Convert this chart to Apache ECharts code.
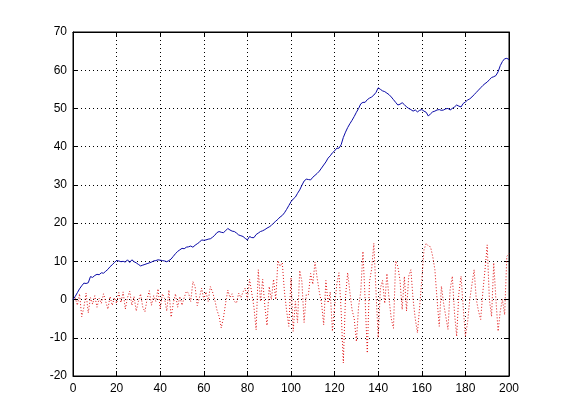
<!DOCTYPE html>
<html>
<head>
<meta charset="utf-8">
<script src="https://cdn.jsdelivr.net/npm/echarts@6/dist/echarts.min.js"></script>
<style>
  html, body { margin: 0; padding: 0; background: #fff; }
  #main { width: 561px; height: 420px; }
</style>
</head>
<body>
<div id="main"></div>
<script>
// blue trace, x = 0..200
const blueValues = [
  0, 0.8, 1.8, 2.8, 3.6, 4.3, 4.2, 4.4, 6.0, 5.8,
  6.3, 6.6, 6.5, 7.0, 6.9, 7.4, 7.9, 8.6, 9.1, 9.7,
  10.2, 10.1, 9.9, 10.0, 9.8, 10.4, 9.7, 10.4, 9.9, 9.6,
  9.2, 8.8, 9.0, 9.2, 9.4, 9.6, 9.8, 10.1, 10.2, 10.4,
  10.3, 10.2, 10.1, 9.9, 10.2, 10.6, 11.3, 12.0, 12.6, 13.0,
  13.4, 13.3, 13.7, 13.8, 14.0, 13.7, 14.2, 14.6, 15.0, 15.6,
  15.5, 15.6, 15.8, 15.9, 16.3, 16.8, 17.5, 17.8, 17.6, 17.5,
  18.0, 18.6, 18.2, 17.9, 17.8, 17.4, 16.9, 16.7, 16.5, 16.0,
  15.6, 16.5, 16.2, 16.2, 17.0, 17.4, 17.8, 18.0, 18.3, 18.7,
  19.0, 19.4, 20.0, 20.5, 21.0, 21.6, 22.0, 22.7, 23.6, 24.6,
  25.6, 26.3, 26.8, 27.8, 28.7, 29.9, 31.0, 31.5, 31.4, 31.3,
  32.0, 32.5, 33.0, 33.6, 34.4, 35.2, 36.0, 37.0, 37.6, 38.4,
  38.9, 39.6, 39.6, 40.5, 42.4, 43.8, 45.0, 46.0, 46.9, 47.9,
  49.0, 50.0, 51.2, 51.6, 51.6, 52.3, 52.7, 53.0, 53.5, 54.2,
  55.4, 55.0, 54.6, 54.4, 54.0, 53.6, 53.0, 52.3, 51.6, 50.9,
  51.1, 51.5, 51.0, 50.4, 50.0, 49.7, 49.3, 49.6, 49.1, 49.5,
  49.7, 49.3, 49.0, 48.0, 48.6, 49.1, 49.3, 49.6, 49.7, 49.5,
  49.6, 49.9, 50.0, 49.6, 50.0, 50.4, 50.9, 50.6, 50.4, 51.3,
  51.7, 52.2, 52.5, 53.0, 53.6, 54.2, 54.8, 55.4, 56.0, 56.5,
  56.9, 57.5, 58.1, 58.3, 58.6, 59.6, 61.2, 62.3, 63.0, 63.1,
  62.8
]

// red dotted trace, x = 1..200
const redValues = [
  0.5, -1.5, 1.5, -4.5, -2, 1.7, -3.5, 0.5, -1.2, 1,
  -2, 0.3, -1, 1.5, -0.5, -2.5, 0.8, -1.5, 0.5, -1,
  1.8, -0.8, 2, -2.5, 0.5, 2.2, -1.5, 0.8, -3, -0.5,
  1.5, -2, -3.2, 0.2, 2.3, -1.5, 1, -0.5, 2.8, -2.5,
  1.5, 0.3, -3, 2.5, -4.6, -1, 1.5, -2, 0.8, -1.5,
  0.5, 2.1, 1.7, -0.5, 4.7, 3.4, -1.6, 0.5, 3, 0,
  2, -0.5, 3.4, 2, 0, -2.7, -4.4, -7.4, -4.8, -1,
  2.5, 0.5, 1.5, -0.5, -0.9, 1.7, 0.5, 2, 3, 0,
  5.3, 1.7, -2, -7.9, 7.8, -0.5, 5.3, -1.7, -6.8, 3.4,
  0, 5.3, 0, 10.2, 8.7, 9.6, 2, -3, -7, 5.7,
  -8.3, -0.5, -6, 7.6, 4.7, -6, 1.3, 1.3, 6.8, 4,
  9.8, 5.6, 2, -0.9, -6.6, 5, -0.9, 2, -8.3, -1.8,
  4, 7, -3, -16.6, 0.8, 7, 2, -2.7, -5, -11,
  -1.8, 2, 12.6, 0, -14, 4.7, 8, 14.7, 2, -10,
  3, 5, -1, 6.8, 0, -5, -7.5, 10.1, 8.7, 5,
  -2.6, 6, -3, 6.1, 7.8, 0, -5, -8.7, -2, 5.2,
  13, 14.7, 14, 13.8, 11.3, 7.8, 0, -7, 3.5, -1,
  -4.4, -7.8, 2.6, 6.1, -3.5, -9.6, 1.7, 6.1, -2, -9.6,
  -6, 0, 4, 7.8, 0, -3, -5.2, 2, 7.8, 14.3,
  0, -4.4, 9.6, 0, -8.3, -3, 0, -4, 11.3, 12
]

const xTicks = [0, 20, 40, 60, 80, 100, 120, 140, 160, 180, 200]
const yTicks = [-20, -10, 0, 10, 20, 30, 40, 50, 60, 70]

const blueData = blueValues.map((v, i) => [i, v])
const redData = redValues.map((v, i) => [i + 1, v])

const font = { fontFamily: 'Liberation Sans, Arial, sans-serif', fontSize: 12, color: '#000' }
const tick = { show: true, inside: true, length: 5, lineStyle: { color: '#000' } }
const grid = { show: true, lineStyle: { color: '#000', type: [1, 3], width: 1 } }
const axisLine = { show: true, onZero: false, lineStyle: { color: '#000' } }

let myChart = echarts.init(document.getElementById('main'), null, { renderer: 'canvas' })
myChart.setOption({
  backgroundColor: '#fff',
  animation: false,
  grid: { left: 73, right: 52, top: 32, bottom: 44, show: true, borderColor: '#000', borderWidth: 1, backgroundColor: '#fff' },
  xAxis: [
    {
      type: 'value', min: xTicks[0], max: xTicks[xTicks.length - 1], interval: 20,
      axisLine: axisLine,
      axisTick: tick,
      axisLabel: { ...font, margin: 7 },
      splitLine: grid
    },
    {
      type: 'value', position: 'top', min: 0, max: 200, interval: 20,
      axisLine: axisLine,
      axisTick: tick, axisLabel: { show: false }, splitLine: { show: false }
    }
  ],
  yAxis: [
    {
      type: 'value', min: yTicks[0], max: yTicks[yTicks.length - 1], interval: 10,
      axisLine: axisLine,
      axisTick: tick,
      axisLabel: { ...font, margin: 6 },
      splitLine: grid
    },
    {
      type: 'value', position: 'right', min: -20, max: 70, interval: 10,
      axisLine: axisLine,
      axisTick: tick, axisLabel: { show: false }, splitLine: { show: false }
    }
  ],
  series: [
    {
      type: 'line', data: blueData, showSymbol: false,
      lineStyle: { color: '#0a0aa8', width: 1 }, z: 3
    },
    {
      type: 'line', data: redData, showSymbol: false,
      lineStyle: { color: '#e01010', width: 1, type: [1, 2] }, z: 2
    }
  ]
})
</script>
</body>
</html>
